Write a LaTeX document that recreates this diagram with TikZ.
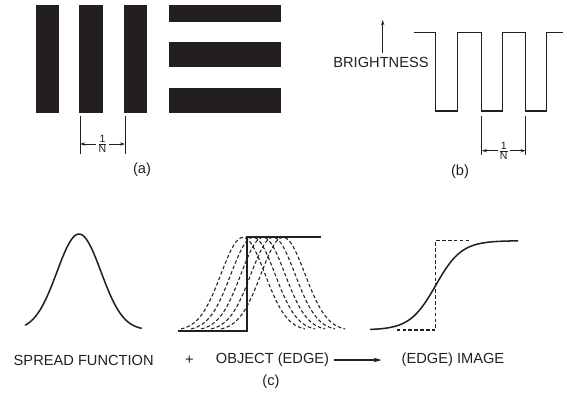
\documentclass[tikz,border=0pt]{standalone}
\usepackage{fontspec}
\setmainfont{Liberation Sans}
\setsansfont{Liberation Sans}
\usepackage{xcolor}
\definecolor{inkblack}{RGB}{35,31,32}
\usetikzlibrary{arrows.meta, positioning, calc}

\tikzset{
  bar/.style={fill=inkblack, draw=none},
  wave/.style={inkblack, line width=1.3pt, line join=miter},
  curve/.style={inkblack, line width=1.3pt},
  edgeline/.style={inkblack, line width=1.8pt, line join=miter},
  shifted/.style={inkblack, line width=0.9pt, dash pattern=on 3pt off 2pt},
  dimline/.style={inkblack, line width=0.8pt},
  dimarrow/.style={inkblack, line width=0.7pt, -{Stealth[length=4.5pt,width=2.8pt]}},
  bigarrow/.style={inkblack, line width=0.9pt, -{Stealth[length=7pt,width=4pt]}},
  lbl/.style={font=\fontsize{12.5}{14}\selectfont, text=inkblack, inner sep=1pt},
  fraclbl/.style={font=\fontsize{9}{10}\selectfont, text=inkblack, inner sep=0.5pt},
}

\begin{document}
\begin{tikzpicture}[x=0.03cm, y=-0.03cm]
  \useasboundingbox (0,0) rectangle (567,393);

  % --- (a): bar patterns ---
  \foreach \xa/\xb in {35.7/59.3, 79/102.7, 124/147.3}
    \fill[bar] (\xa,5) rectangle (\xb,113);
  \foreach \ya/\yb in {5/22.3, 42.3/66.7, 88.3/113}
    \fill[bar] (168.7,\ya) rectangle (280.7,\yb);
  % period
  \coordinate (pa1) at (80,116);
  \coordinate (pa2) at (125,116);
  \draw[dimline] (pa1) -- ++(0,38);
  \draw[dimline] (pa2) -- ++(0,38);
  \node[fraclbl] (fa) at (102.5,144) {$\frac{\mbox{1}}{\mbox{N}}$};
  \draw[dimarrow] (fa.west) -- (fa.west -| pa1);
  \draw[dimarrow] (fa.east) -- (fa.east -| pa2);
  \node[lbl] (capa) at (142,170) {(a)};

  % --- (b): brightness profile ---
  \draw[wave] (414.3,32.7) -- (435.7,32.7) -- (435.7,111) -- (457.3,111)
    -- (457.3,32.7) -- (481.7,32.7) -- (481.7,111) -- (502.7,111)
    -- (502.7,32.7) -- (525.7,32.7) -- (525.7,111) -- (546.7,111)
    -- (546.7,32.7) -- (563,32.7);
  \node[lbl, anchor=east] (bright) at (430,62) {BRIGHTNESS};
  \coordinate (btop) at (382.7,20);
  \draw[dimarrow] ([yshift=2pt]bright.north -| btop) -- (btop);
  % period
  \coordinate (pb1) at (481.7,116);
  \coordinate (pb2) at (525.7,116);
  \draw[dimline] (pb1) -- ++(0,39);
  \draw[dimline] (pb2) -- ++(0,39);
  \node[fraclbl] (fb) at (503.7,150.7) {$\frac{\mbox{1}}{\mbox{N}}$};
  \draw[dimarrow] (fb.west) -- (fb.west -| pb1);
  \draw[dimarrow] (fb.east) -- (fb.east -| pb2);
  \node[lbl] (capb) at (460,172) {(b)};

  % --- (c): spread function ---
  \draw[curve] plot[domain=25:141.7, samples=60, smooth]
    (\x, {330-96*exp(-0.5*((\x-79)/22)^2)});

  % object edge with shifted spreads
  \foreach \p in {243,253,263,273,283}
    \draw[shifted] plot[domain=\p-62:\p+62, samples=50, smooth]
      (\x, {330.7-93.4*exp(-0.5*((\x-\p)/22)^2)});
  \draw[edgeline] (177.7,330.7) -- (247.3,330.7) -- (247.3,237.3) -- (321,237.3);

  % edge image
  \draw[shifted] (396.7,330) -- (435.7,330) -- (435.7,240.7) -- (470,240.7);
  \draw[curve] plot[domain=370:518, samples=80, smooth]
    (\x, {330-89.3/(1+exp(-1.702*(\x-435.7)/22))});

  % labels
  \node[lbl] (spread) at (83.7,360) {SPREAD FUNCTION};
  \node[lbl] (plus) at (189.3,360) {+};
  \node[lbl] (object) at (272.5,360) {OBJECT (EDGE)};
  \node[lbl] (image) at (453,360) {(EDGE) IMAGE};
  \draw[bigarrow, shorten <=3pt, shorten >=16pt] (object) -- (image);
  \node[lbl] (capc) at (271,381.7) {(c)};
\end{tikzpicture}
\end{document}
